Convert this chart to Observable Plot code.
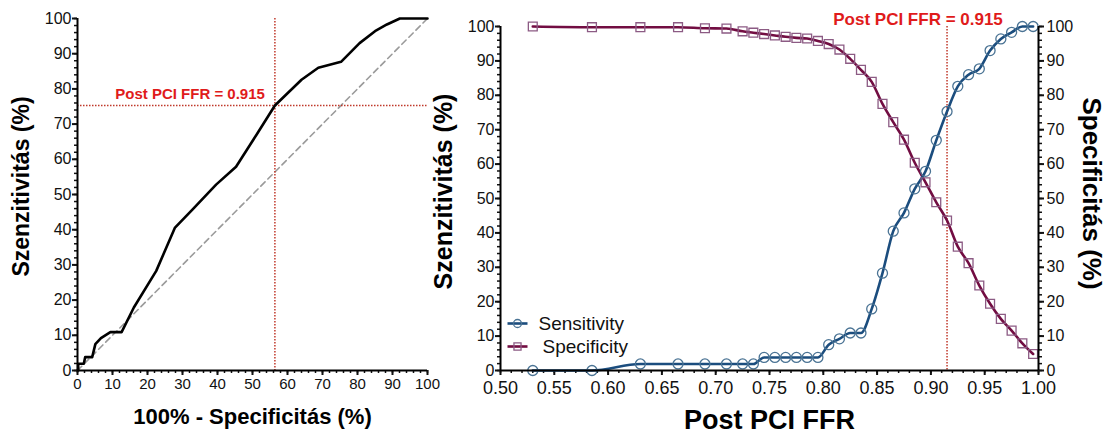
<!DOCTYPE html>
<html><head><meta charset="utf-8">
<script src="https://cdn.jsdelivr.net/npm/d3@7"></script>
<script src="https://cdn.jsdelivr.net/npm/@observablehq/plot@0.6"></script>
<style>
body{margin:0;background:#fff;}
#wrap{position:relative;width:1111px;height:434px;overflow:hidden;background:#fff;}
#left{position:absolute;left:0;top:0;}
#right{position:absolute;left:425px;top:0;}
svg{overflow:visible;}
</style></head><body><div id="wrap"><div id="left"></div><div id="right"></div></div>
<script>
// ---- data ----
const ffr = [0.53,0.585,0.63,0.665,0.69,0.71,0.725,0.735,0.745,0.755,0.765,0.775,0.785,0.795,0.805,0.815,0.825,0.835,0.845,0.855,0.865,0.875,0.885,0.895,0.905,0.915,0.925,0.935,0.945,0.955,0.965,0.975,0.985,0.995];
const sensitivity = [0,0,1.9,1.9,1.9,1.9,1.9,1.9,3.8,3.8,3.8,3.8,3.8,3.8,7.5,9.2,10.9,10.9,17.9,28.3,40.5,45.8,52.8,57.9,66.9,75.3,82.6,86.0,87.7,93.0,96.4,98.3,100,100];
const specificity = [100,99.8,99.8,99.8,99.5,99.4,98.6,98.2,97.8,97.4,97.0,96.7,96.5,95.8,94.9,93.3,90.6,87.4,83.9,77.5,72.2,67.1,60.4,54.7,48.9,43.6,36.0,31.2,24.7,19.4,15.0,11.6,7.9,4.8];
const cutoff = 0.915;
const cutoffLabel = "Post PCI FFR = 0.915";
const rocEnd = {fpr: 100, tpr: 100};
const diagonal = [0, 100];
const pctTicksMajor = d3.range(0, 101, 10);
const pctTicksMinor = d3.range(0, 101, 2);
const ffrTicksMajor = [0.50,0.55,0.60,0.65,0.70,0.75,0.80,0.85,0.90,0.95,1.00];
const ffrTicksMinor = d3.range(50, 101, 1).map(d => d / 100);
const seriesNames = ["Sensitivity", "Specificity"];
const titles = {
  rocY: "Szenzitivitás (%)",
  rocX: "100% - Specificitás (%)",
  curveX: "Post PCI FFR",
  curveYLeft: "Szenzitivitás (%)",
  curveYRight: "Specificitás (%)"
};

// ---- derived tables ----
const rows = ffr.map((f, i) => ({ffr: f, sens: sensitivity[i], spec: specificity[i]}));
const roc = rows.map(r => ({fpr: 100 - r.spec, tpr: r.sens})).concat([rocEnd]);
const cut = rows.find(r => Math.abs(r.ffr - cutoff) < 1e-9);

const FONT = "'Liberation Sans', Arial, sans-serif";
const BLUE = "#1b4d7e", MAROON = "#720d42";
const BLUE_MK = "#4a7394", MAROON_MK = "#8c5b84";
const RED_TXT = "#e01b1b", RED_LINE = "#c0392b";
const blank = () => "";
const legendLine = {draw(ctx) { ctx.moveTo(-10, 0); ctx.lineTo(10, 0); }};

// ---- left: ROC ----
const left = Plot.plot({
  width: 440, height: 434,
  marginLeft: 77, marginRight: 13, marginTop: 18, marginBottom: 64,
  style: {fontFamily: FONT, background: "transparent", color: "#111"},
  x: {domain: [0, 100]}, y: {domain: [0, 100]},
  marks: [
    Plot.axisX({ticks: pctTicksMinor, tickSize: 3, tickFormat: blank, strokeWidth: 1.5, label: null}),
    Plot.axisX({ticks: pctTicksMajor, tickSize: 5, tickPadding: 3, fontSize: 15, strokeWidth: 2, label: null}),
    Plot.axisY({ticks: pctTicksMinor, tickSize: 3, tickFormat: blank, strokeWidth: 1.5, label: null}),
    Plot.axisY({ticks: pctTicksMajor, tickSize: 5, tickPadding: 1, fontSize: 16, strokeWidth: 2, label: null}),
    Plot.line(diagonal, {x: d => d, y: d => d, stroke: "#9a9a9a", strokeWidth: 1.6, strokeDasharray: "6,4"}),
    Plot.ruleX([cut], {x: d => 100 - d.spec, stroke: RED_LINE, strokeWidth: 1.5, strokeDasharray: "1.5,1.5"}),
    Plot.ruleY([cut], {y: d => d.sens, stroke: RED_LINE, strokeWidth: 1.5, strokeDasharray: "1.5,1.5"}),
    Plot.line(roc, {x: "fpr", y: "tpr", stroke: "#000", strokeWidth: 2.6}),
    Plot.ruleX([0], {stroke: "#000", strokeWidth: 2}),
    Plot.ruleY([0], {stroke: "#000", strokeWidth: 2}),
    Plot.text([cut], {x: d => 100 - d.spec, y: d => d.sens, text: () => cutoffLabel, textAnchor: "end", lineAnchor: "middle", dx: -10, dy: -11, fontSize: 15, fontWeight: "bold", fill: RED_TXT}),
    Plot.text([titles.rocY], {frameAnchor: "left", textAnchor: "middle", lineAnchor: "middle", rotate: -90, dx: -56, dy: -8, fontSize: 23, fontWeight: "bold", fill: "#000"}),
    Plot.text([titles.rocX], {frameAnchor: "bottom", textAnchor: "middle", lineAnchor: "middle", dy: 46, fontSize: 22, fontWeight: "bold", fill: "#000"})
  ]
});
document.getElementById("left").append(left);

// ---- right: sensitivity / specificity vs FFR ----
const right = Plot.plot({
  width: 686, height: 434,
  marginLeft: 75, marginRight: 73, marginTop: 26, marginBottom: 64,
  style: {fontFamily: FONT, background: "transparent", color: "#111"},
  x: {domain: [0.5, 1]}, y: {domain: [0, 100]},
  marks: [
    Plot.axisX({ticks: ffrTicksMinor, tickSize: 3, tickFormat: blank, strokeWidth: 1.5, label: null}),
    Plot.axisX({ticks: ffrTicksMajor, tickSize: 5, tickPadding: 6, fontSize: 18, tickFormat: d3.format(".2f"), strokeWidth: 2, label: null}),
    Plot.axisY({anchor: "left", ticks: pctTicksMinor, tickSize: 3, tickFormat: blank, strokeWidth: 1.5, label: null}),
    Plot.axisY({anchor: "left", ticks: pctTicksMajor, tickSize: 5, tickPadding: 1, fontSize: 16, strokeWidth: 2, label: null}),
    Plot.axisY({anchor: "right", ticks: pctTicksMinor, tickSize: 3, tickFormat: blank, strokeWidth: 1.5, label: null}),
    Plot.axisY({anchor: "right", ticks: pctTicksMajor, tickSize: 5, tickPadding: 3, fontSize: 16, strokeWidth: 2, label: null}),
    Plot.ruleX([cutoff], {stroke: RED_LINE, strokeWidth: 1.5, strokeDasharray: "1.5,1.5"}),
    Plot.line(rows, {x: "ffr", y: "spec", stroke: MAROON, strokeWidth: 2.6, curve: "monotone-x"}),
    Plot.line(rows, {x: "ffr", y: "sens", stroke: BLUE, strokeWidth: 2.6, curve: "monotone-x"}),
    Plot.dot(rows, {x: "ffr", y: "spec", symbol: "square", r: 5, stroke: MAROON_MK, strokeWidth: 1.3, fill: "none"}),
    Plot.dot(rows, {x: "ffr", y: "sens", symbol: "circle", r: 5, stroke: BLUE_MK, strokeWidth: 1.3, fill: "none"}),
    Plot.ruleX([0.5], {stroke: "#000", strokeWidth: 2}),
    Plot.ruleX([1], {stroke: "#000", strokeWidth: 2}),
    Plot.ruleY([0], {stroke: "#000", strokeWidth: 2}),
    Plot.text([cutoffLabel], {x: () => cutoff, frameAnchor: "top", textAnchor: "middle", lineAnchor: "middle", dx: -29, dy: -7, fontSize: 17, fontWeight: "bold", fill: RED_TXT}),
    // legend
    Plot.dot([seriesNames[0]], {frameAnchor: "bottom-left", dx: 17, dy: -47, symbol: legendLine, r: 5, stroke: BLUE, strokeWidth: 2.6, fill: "none"}),
    Plot.dot([seriesNames[0]], {frameAnchor: "bottom-left", dx: 17, dy: -47, symbol: "circle", r: 4, stroke: BLUE_MK, strokeWidth: 1.3, fill: "none"}),
    Plot.text([seriesNames[0]], {frameAnchor: "bottom-left", dx: 38, dy: -47, textAnchor: "start", lineAnchor: "middle", fontSize: 19, fill: "#111"}),
    Plot.dot([seriesNames[1]], {frameAnchor: "bottom-left", dx: 17, dy: -24, symbol: legendLine, r: 5, stroke: MAROON, strokeWidth: 2.6, fill: "none"}),
    Plot.dot([seriesNames[1]], {frameAnchor: "bottom-left", dx: 17, dy: -24, symbol: "square", r: 4, stroke: MAROON_MK, strokeWidth: 1.3, fill: "none"}),
    Plot.text([seriesNames[1]], {frameAnchor: "bottom-left", dx: 42, dy: -24, textAnchor: "start", lineAnchor: "middle", fontSize: 19, fill: "#111"}),
    // axis titles
    Plot.text([titles.curveYLeft], {frameAnchor: "left", textAnchor: "middle", lineAnchor: "middle", rotate: -90, dx: -57, dy: -7, fontSize: 25, fontWeight: "bold", fill: "#000"}),
    Plot.text([titles.curveYRight], {frameAnchor: "right", textAnchor: "middle", lineAnchor: "middle", rotate: 90, dx: 53, dy: -5, fontSize: 26, fontWeight: "bold", fill: "#000"}),
    Plot.text([titles.curveX], {frameAnchor: "bottom", textAnchor: "middle", lineAnchor: "middle", dy: 50, fontSize: 27, fontWeight: "bold", fill: "#000"})
  ]
});
document.getElementById("right").append(right);
</script></body></html>
